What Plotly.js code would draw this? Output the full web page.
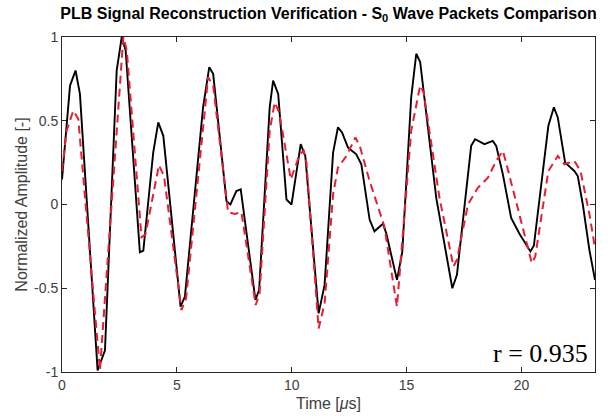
<!DOCTYPE html>
<html>
<head>
<meta charset="utf-8">
<script src="https://cdn.plot.ly/plotly-3.0.1.min.js"></script>
<style>html,body{margin:0;padding:0;background:#fff;}#chart{width:612px;height:416px;}</style>
</head>
<body>
<div id="chart"></div>
<script>
// Measured (black solid) signal
const measuredTime = [0, 0.35, 0.59, 0.78, 1.55, 1.87, 2.38, 2.6, 2.77, 3.39, 3.54, 3.97, 4.19, 4.41, 5.16, 5.35, 6.14, 6.41, 6.58, 7.16, 7.33, 7.59, 7.78, 8.42, 8.58, 9.04, 9.19, 9.41, 9.77, 9.99, 10.39, 10.59, 11.17, 11.43, 11.8, 12.01, 12.19, 12.45, 12.81, 13.03, 13.39, 13.6, 13.97, 14.12, 14.58, 14.81, 15.2, 15.42, 15.59, 16.29, 16.99, 17.19, 17.81, 17.98, 18.39, 18.75, 18.9, 19.19, 19.55, 19.91, 20.39, 20.54, 21.17, 21.41, 21.58, 21.9, 22.3, 22.45, 22.67, 22.96, 23.2];
const measuredAmp = [0.15, 0.71, 0.80, 0.66, -0.99, -0.87, 0.80, 1.0, 0.92, -0.285, -0.275, 0.31, 0.49, 0.41, -0.61, -0.55, 0.58, 0.82, 0.78, 0.02, 0.0, 0.08, 0.09, -0.57, -0.51, 0.58, 0.74, 0.66, 0.03, 0.0, 0.36, 0.29, -0.65, -0.48, 0.31, 0.46, 0.43, 0.34, 0.30, 0.24, -0.09, -0.16, -0.115, -0.175, -0.45, -0.285, 0.64, 0.90, 0.85, 0.04, -0.50, -0.42, 0.35, 0.39, 0.36, 0.38, 0.35, 0.18, -0.08, -0.175, -0.28, -0.245, 0.47, 0.58, 0.52, 0.25, 0.20, 0.17, 0.0, -0.275, -0.45];

// Reconstructed (red dashed) signal
const reconTime = [0, 0.2, 0.49, 0.71, 1.65, 2.67, 2.82, 3.46, 3.63, 4.22, 4.44, 5.2, 5.4, 6.36, 6.58, 7.23, 7.52, 7.81, 8.43, 8.6, 9.04, 9.26, 9.45, 9.96, 10.35, 10.52, 10.64, 11.17, 11.43, 11.8, 12.01, 12.38, 12.77, 12.96, 13.39, 13.83, 14.03, 14.58, 15.2, 15.59, 15.74, 16.43, 17.04, 17.19, 17.67, 18.1, 18.54, 18.9, 19.19, 19.33, 20.45, 20.6, 21.17, 21.58, 21.87, 22.3, 22.57, 22.96, 23.2];
const reconAmp = [0.20, 0.44, 0.56, 0.51, -0.99, 1.0, 0.92, -0.195, -0.18, 0.235, 0.17, -0.63, -0.56, 0.76, 0.71, -0.046, -0.056, -0.046, -0.60, -0.53, 0.44, 0.61, 0.55, 0.15, 0.30, 0.32, 0.25, -0.74, -0.59, 0.06, 0.22, 0.29, 0.40, 0.35, 0.14, -0.04, -0.13, -0.61, 0.44, 0.71, 0.67, 0.04, -0.37, -0.33, 0.0, 0.10, 0.16, 0.26, 0.32, 0.25, -0.35, -0.31, 0.20, 0.29, 0.24, 0.26, 0.20, -0.06, -0.26];

const xTicks = [0, 5, 10, 15, 20];
const yTicks = [-1, -0.5, 0, 0.5, 1];
const yTickLabels = ['-1', '-0.5', '0', '0.5', '1'];
const corrText = 'r = 0.935';

const sans = 'Liberation Sans, Arial, sans-serif';
const axisCommon = {
  showline: true, mirror: 'ticks', linecolor: '#262626', linewidth: 1,
  ticks: 'inside', ticklen: 5, tickcolor: '#262626', tickwidth: 1,
  showgrid: false, zeroline: false,
  tickfont: {family: sans, size: 14, color: '#404040'}
};

const data = [
  {x: measuredTime, y: measuredAmp, type: 'scatter', mode: 'lines',
   line: {color: '#000000', width: 1.9}, hoverinfo: 'skip'},
  {x: reconTime, y: reconAmp, type: 'scatter', mode: 'lines',
   line: {color: 'rgb(232,30,50)', width: 2, dash: '8px,5px'}, hoverinfo: 'skip'}
];

const layout = {
  width: 612, height: 416,
  margin: {l: 62, r: 16.5, t: 37, b: 44, pad: 0},
  paper_bgcolor: '#ffffff', plot_bgcolor: '#ffffff',
  showlegend: false,
  title: {
    text: '<b>PLB Signal Reconstruction Verification - S<sub>0</sub> Wave Packets Comparison</b>',
    font: {family: sans, size: 16, color: '#000000'},
    x: 0.5, xref: 'paper', xanchor: 'center', y: 0.968, yref: 'container', yanchor: 'middle'
  },
  xaxis: Object.assign({}, axisCommon, {
    range: [0, 23.2], tickvals: xTicks, ticktext: xTicks.map(String),
    title: {text: 'Time [<i>μ</i>s]', font: {family: sans, size: 16, color: '#404040'}, standoff: 6}
  }),
  yaxis: Object.assign({}, axisCommon, {
    range: [-1, 1], tickvals: yTicks, ticktext: yTickLabels,
    title: {text: 'Normalized Amplitude [-]', font: {family: sans, size: 16, color: '#404040'}, standoff: 2}
  }),
  annotations: [{
    text: corrText, xref: 'paper', yref: 'paper', x: 0.99, y: 0.005,
    xanchor: 'right', yanchor: 'bottom', showarrow: false,
    font: {family: 'Liberation Serif, Times New Roman, serif', size: 26, color: '#000000'}
  }]
};

Plotly.newPlot('chart', data, layout, {staticPlot: true, displayModeBar: false});
</script>
</body>
</html>
